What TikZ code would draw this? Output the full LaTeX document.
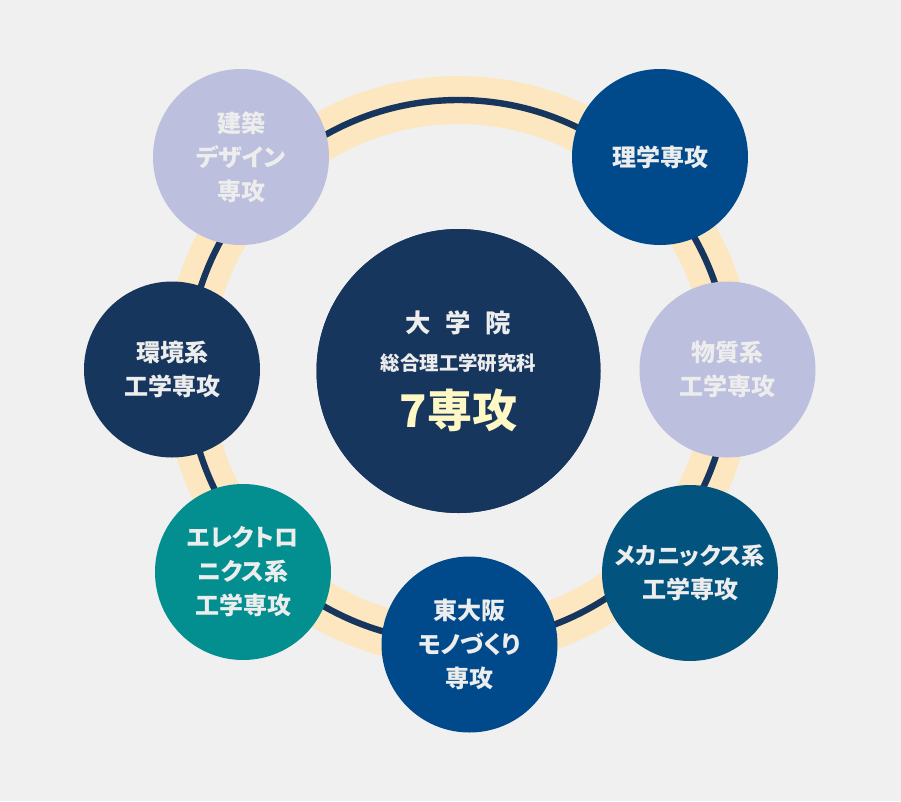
\documentclass[tikz,border=0pt]{standalone}
\usepackage{fontspec}
\usepackage{xcolor}
\usepackage{tikz}
\newfontfamily\jpfont{Noto Sans CJK JP}[RawFeature=+palt]

\definecolor{bggray}{HTML}{F0F0F0}
\definecolor{ringbeige}{HTML}{FDE7C1}
\definecolor{navy}{HTML}{17365E}
\definecolor{deepblue}{HTML}{004A8B}
\definecolor{seablue}{HTML}{02537E}
\definecolor{teal}{HTML}{038E8F}
\definecolor{lavender}{HTML}{BCBFDD}
\definecolor{paletext}{HTML}{EDEDED}
\definecolor{paleyellow}{HTML}{FFF7C4}

\tikzset{
  major/.style={circle,inner sep=0pt,minimum size=132pt,align=center,text=paletext,
    font=\jpfont\bfseries\fontsize{18}{25.5}\selectfont},
  hub/.style={circle,inner sep=0pt,minimum size=213pt,fill=navy}
}

\begin{document}
\begin{tikzpicture}[x=0.75pt,y=-0.75pt]
\fill[bggray] (0,0) rectangle (901,801);
\useasboundingbox (0,0) rectangle (901,801);

\node[hub] (center) at (458.5,371) {};
\draw[ringbeige,line width=36pt] (center.center) circle[radius=271];
\draw[navy,line width=4.8pt] (center.center) circle[radius=271];
\node[hub] at (center.center) {};

\node[major,fill=lavender] (kenchiku) at (241,157) {建築\\デザイン\\専攻};
\node[major,fill=deepblue] (rigaku) at (660,157) {理学専攻};
\node[major,fill=lavender] (busshitsu) at (727.5,369.5) {物質系\\工学専攻};
\node[major,fill=seablue] (mech) at (690,573) {{\fontsize{17.5}{25.5}\selectfont メカニックス系}\\工学専攻};
\node[major,fill=deepblue] (higashi) at (469.5,644.5) {東大阪\\モノづくり\\専攻};
\node[major,fill=teal] (elec) at (243,572) {エレクトロ\\ニクス系\\工学専攻};
\node[major,fill=navy] (kankyo) at (172,369.5) {環境系\\工学専攻};

\node[text=paletext,font=\jpfont\bfseries\fontsize{19}{22}\selectfont] (title) at (458.5,323) {大\hspace{11pt}学\hspace{11pt}院};
\node[text=paletext,font=\jpfont\bfseries\fontsize{14.6}{18}\selectfont] (school) at (458.5,363) {総合理工学研究科};
\node[text=paleyellow,font=\jpfont\bfseries\fontsize{33.75}{40}\selectfont] (count) at (458.5,410) {7専攻};
\end{tikzpicture}
\end{document}
